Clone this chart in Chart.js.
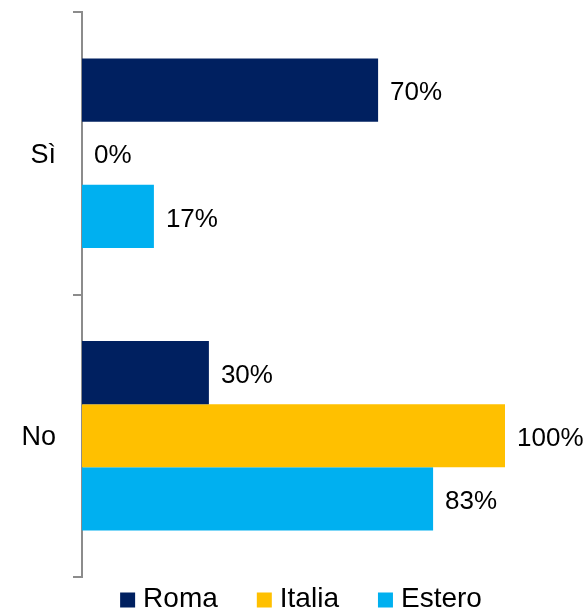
<!DOCTYPE html>
<html lang="it">
<head>
<meta charset="UTF-8">
<title>Sì / No</title>
<script src="https://cdn.jsdelivr.net/npm/chart.js@4/dist/chart.umd.min.js"></script>
<style>
  html, body { margin: 0; padding: 0; background: #fff; }
  #wrap { width: 588px; height: 612px; }
</style>
</head>
<body>
<div id="wrap"><canvas id="chart" width="588" height="612"></canvas></div>
<script>
// risposte per provenienza (percentuali)
const categories = ['Sì', 'No'];
const roma = [70, 30];
const italia = [0, 100];
const estero = [17, 83];
const seriesNames = ['Roma', 'Italia', 'Estero'];
const seriesColors = ['#002060', '#FFC000', '#00B0F0'];

const FONT = 'Arial, "Liberation Sans", sans-serif';

// etichette con il valore a destra di ogni barra
const valueLabels = {
  id: 'valueLabels',
  afterDatasetsDraw(chart) {
    const ctx = chart.ctx;
    ctx.save();
    ctx.font = '26px ' + FONT;
    ctx.fillStyle = '#000';
    ctx.textAlign = 'left';
    ctx.textBaseline = 'middle';
    chart.data.datasets.forEach((ds, i) => {
      chart.getDatasetMeta(i).data.forEach((bar, j) => {
        ctx.fillText(ds.data[j] + '%', bar.x + 12, bar.y + 3);
      });
    });
    ctx.restore();
  }
};

// legenda in basso, disegnata a mano per controllare le spaziature
const bottomLegend = {
  id: 'bottomLegend',
  afterDraw(chart) {
    const ctx = chart.ctx;
    const box = 15, gapText = 8, gapItem = 39;
    ctx.save();
    ctx.font = '28px ' + FONT;
    ctx.textBaseline = 'middle';
    ctx.textAlign = 'left';
    const items = chart.data.datasets.map(ds => ({
      text: ds.label, color: ds.backgroundColor, w: ctx.measureText(ds.label).width
    }));
    const total = items.reduce((s, it) => s + box + gapText + it.w, 0) + gapItem * (items.length - 1);
    let x = chart.width / 2 + 7 - total / 2;
    const y = 599;
    items.forEach(it => {
      ctx.fillStyle = it.color;
      ctx.fillRect(x, y - box / 2 + 1, box, box);
      ctx.fillStyle = '#000';
      ctx.fillText(it.text, x + box + gapText, y);
      x += box + gapText + it.w + gapItem;
    });
    ctx.restore();
  }
};

new Chart(document.getElementById('chart'), {
  type: 'bar',
  data: {
    labels: categories,
    datasets: [roma, italia, estero].map((d, i) => ({
      label: seriesNames[i],
      data: d,
      backgroundColor: seriesColors[i],
      borderWidth: 0,
      categoryPercentage: 0.67,
      barPercentage: 1
    }))
  },
  options: {
    indexAxis: 'y',
    responsive: false,
    animation: false,
    layout: { padding: { top: 12, right: 83, left: 0, bottom: 35 } },
    scales: {
      x: { display: false, min: 0, max: 100 },
      y: {
        afterFit(scale) {
          scale.width = 82;
          scale.paddingTop = 0;
          scale.paddingBottom = 0;
        },
        grid: {
          drawOnChartArea: false,
          drawTicks: true,
          tickLength: 9,
          color: '#8c8c8c',
          lineWidth: 2
        },
        border: { display: true, color: '#8c8c8c', width: 2 },
        ticks: {
          color: '#000',
          padding: 17,
          labelOffset: 2,
          font: { family: FONT, size: 27 }
        }
      }
    },
    plugins: {
      legend: { display: false },
      tooltip: { enabled: false }
    }
  },
  plugins: [valueLabels, bottomLegend]
});
</script>
</body>
</html>
